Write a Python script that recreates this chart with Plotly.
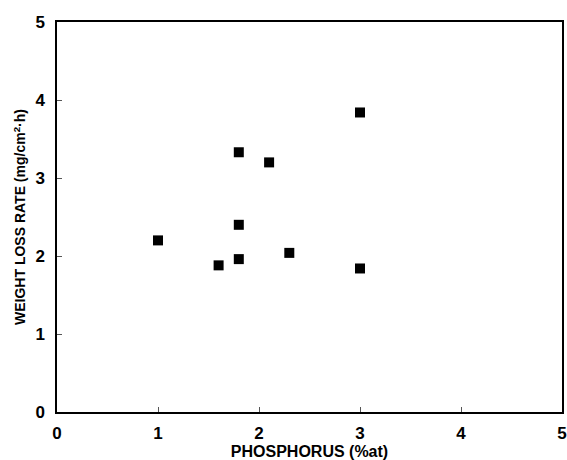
import plotly.graph_objects as go

phosphorus = [1.0, 1.6, 1.8, 1.8, 1.8, 2.1, 2.3, 3.0, 3.0]
weight_loss = [2.20, 1.88, 1.96, 2.40, 3.33, 3.20, 2.04, 3.84, 1.84]
ticks = [0, 1, 2, 3, 4, 5]

fig = go.Figure()
fig.add_trace(go.Scatter(
    x=phosphorus, y=weight_loss, mode="markers",
    marker=dict(symbol="square", size=10, color="black", line=dict(width=0)),
    showlegend=False,
))

font = dict(family="Liberation Sans, Arial, sans-serif", color="black")
axis_common = dict(
    showgrid=False, zeroline=False, showline=True, linecolor="black", linewidth=1.5,
    mirror=True, ticks="inside", ticklen=5, tickwidth=1, tickcolor="#555",
    tickvals=ticks, ticktext=[f"<b>{t}</b>" for t in ticks],
    tickfont=dict(size=17, **font), automargin=False,
)
fig.update_layout(
    width=567, height=460,
    margin=dict(l=57, r=5, t=22, b=48),
    plot_bgcolor="white", paper_bgcolor="white",
    xaxis=dict(range=[0, 5], ticklabelstandoff=5,
               title=dict(text="<b>PHOSPHORUS (%at)</b>", font=dict(size=16, **font), standoff=0),
               **axis_common),
    yaxis=dict(range=[0, 5], ticklabelstandoff=7,
               title=dict(text="<b>WEIGHT LOSS RATE (mg/cm<sup>2</sup>·h)</b>", font=dict(size=14, **font), standoff=6),
               **axis_common),
)
fig.write_html("out.html")
